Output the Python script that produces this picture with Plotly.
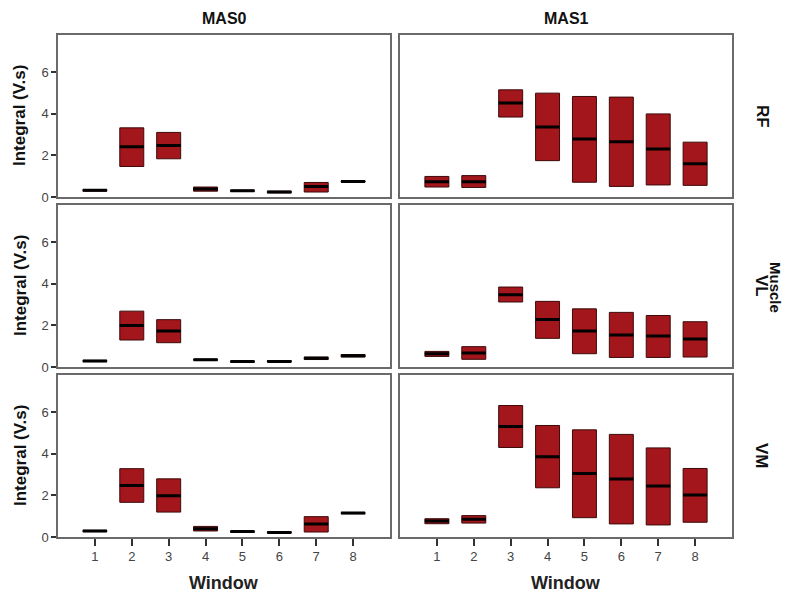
import plotly.graph_objects as go

windows = [1, 2, 3, 4, 5, 6, 7, 8]
groups = ["MAS0", "MAS1"]
muscles = ["RF", "VL", "VM"]

# RF
rf_mas0_q1 = [0.28, 1.47, 1.84, 0.28, 0.27, 0.20, 0.24, 0.72]
rf_mas0_med = [0.32, 2.42, 2.48, 0.38, 0.30, 0.24, 0.51, 0.75]
rf_mas0_q3 = [0.36, 3.33, 3.11, 0.48, 0.33, 0.28, 0.70, 0.78]
rf_mas1_q1 = [0.48, 0.46, 3.85, 1.75, 0.71, 0.51, 0.58, 0.56]
rf_mas1_med = [0.74, 0.74, 4.52, 3.37, 2.79, 2.66, 2.31, 1.60]
rf_mas1_q3 = [0.99, 1.03, 5.16, 5.00, 4.84, 4.81, 4.00, 2.64]
# VL
vl_mas0_q1 = [0.26, 1.30, 1.17, 0.32, 0.23, 0.24, 0.36, 0.48]
vl_mas0_med = [0.29, 2.00, 1.73, 0.35, 0.26, 0.27, 0.42, 0.54]
vl_mas0_q3 = [0.32, 2.69, 2.28, 0.38, 0.29, 0.31, 0.48, 0.60]
vl_mas1_q1 = [0.51, 0.37, 3.13, 1.38, 0.64, 0.46, 0.46, 0.48]
vl_mas1_med = [0.64, 0.67, 3.48, 2.29, 1.73, 1.54, 1.49, 1.35]
vl_mas1_q3 = [0.75, 0.98, 3.85, 3.16, 2.80, 2.63, 2.48, 2.18]
# VM
vm_mas0_q1 = [0.26, 1.67, 1.20, 0.29, 0.23, 0.19, 0.24, 1.12]
vm_mas0_med = [0.29, 2.48, 1.99, 0.40, 0.26, 0.22, 0.63, 1.15]
vm_mas0_q3 = [0.32, 3.29, 2.80, 0.51, 0.29, 0.25, 0.98, 1.18]
vm_mas1_q1 = [0.64, 0.67, 4.31, 2.37, 0.93, 0.63, 0.58, 0.71]
vm_mas1_med = [0.77, 0.85, 5.32, 3.86, 3.06, 2.79, 2.45, 2.02]
vm_mas1_q3 = [0.88, 1.03, 6.33, 5.37, 5.16, 4.94, 4.29, 3.30]

panels = {
    ("RF", "MAS0"): (rf_mas0_q1, rf_mas0_med, rf_mas0_q3),
    ("RF", "MAS1"): (rf_mas1_q1, rf_mas1_med, rf_mas1_q3),
    ("VL", "MAS0"): (vl_mas0_q1, vl_mas0_med, vl_mas0_q3),
    ("VL", "MAS1"): (vl_mas1_q1, vl_mas1_med, vl_mas1_q3),
    ("VM", "MAS0"): (vm_mas0_q1, vm_mas0_med, vm_mas0_q3),
    ("VM", "MAS1"): (vm_mas1_q1, vm_mas1_med, vm_mas1_q3),
}

# page body has an 8px margin: figure is sized/positioned to compensate
OFF = 8
W, H = 791 - OFF, 596 - OFF
col_px = [(58, 390), (400, 732)]
row_px = [(35, 197), (205, 367), (375, 537)]


def px(x):
    return (x - OFF) / W


def py(y):
    return 1 - (y - OFF) / H


FONT = "Liberation Sans, Arial, sans-serif"
FILL = "rgb(163,22,27)"
EDGE = "rgb(60,10,10)"
FRAME = "#6a6a6a"

fig = go.Figure()
layout = dict(
    width=W, height=H, margin=dict(l=0, r=0, t=0, b=0, autoexpand=False),
    paper_bgcolor="white", plot_bgcolor="white",
    showlegend=False, boxmode="overlay",
    font=dict(family=FONT, color="#333333", size=13),
)

annotations = []
idx = 0
for r, m in enumerate(muscles):
    for c, g in enumerate(groups):
        idx += 1
        xa = "x" if idx == 1 else f"x{idx}"
        ya = "y" if idx == 1 else f"y{idx}"
        q1, med, q3 = panels[(m, g)]
        fig.add_trace(go.Box(
            x=windows, q1=q1, median=med, q3=q3,
            lowerfence=q1, upperfence=q3,
            width=0.65, whiskerwidth=0,
            fillcolor=FILL, line=dict(color=EDGE, width=1),
            xaxis=xa, yaxis=ya, hoverinfo="skip",
        ))
        fig.add_trace(go.Box(
            x=windows, q1=med, median=med, q3=med,
            lowerfence=med, upperfence=med,
            width=0.65, whiskerwidth=0,
            fillcolor="rgba(0,0,0,0)", line=dict(color="black", width=3),
            xaxis=xa, yaxis=ya, hoverinfo="skip",
        ))
        x0, x1 = col_px[c]
        y0, y1 = row_px[r]
        bottom = r == len(muscles) - 1
        left = c == 0
        layout["xaxis" if idx == 1 else f"xaxis{idx}"] = dict(
            domain=[px(x0), px(x1)], anchor=ya, range=[0, 9],
            tickmode="array", tickvals=windows,
            ticktext=[str(w) for w in windows],
            showticklabels=bottom, ticks="outside" if bottom else "",
            ticklen=7, tickwidth=1.5, tickcolor="#333",
            showgrid=False, zeroline=False, automargin=False,
            showline=True, linecolor=FRAME, linewidth=1.5, mirror=True,
            tickfont=dict(size=13, color="#444"),
            fixedrange=True,
        )
        layout["yaxis" if idx == 1 else f"yaxis{idx}"] = dict(
            domain=[py(y1), py(y0)], anchor=xa, range=[0, 7.8],
            tickmode="array", tickvals=[0, 2, 4, 6],
            showticklabels=left, ticks="outside" if left else "",
            ticklen=5, tickwidth=1.5, tickcolor="#333",
            showgrid=False, zeroline=False, automargin=False,
            showline=True, linecolor=FRAME, linewidth=1.5, mirror=True,
            tickfont=dict(size=13, color="#444"),
            fixedrange=True,
        )


def label(text, x, y, size, angle=0, color="#111"):
    return dict(text=text, x=px(x), y=py(y), xref="paper", yref="paper",
                xanchor="center", yanchor="middle", showarrow=False,
                textangle=angle, borderpad=0,
                font=dict(size=size, color=color, family=FONT))


# column titles and x titles
for c, g in enumerate(groups):
    x0, x1 = col_px[c]
    annotations.append(label(f"<b>{g}</b>", (x0 + x1) / 2, 18, 16))
    annotations.append(label("<b>Window</b>", (x0 + x1) / 2, 583, 18, color="#222"))
# row labels and y titles
for r, m in enumerate(muscles):
    y0, y1 = row_px[r]
    annotations.append(label(f"<b>{m}</b>", 762, (y0 + y1) / 2, 17, angle=90))
    annotations.append(label("<b>Integral (V.s)</b>", 20, (y0 + y1) / 2, 17, angle=-90))
annotations.append(label("<b>Muscle</b>", 776, 287, 15, angle=90))

layout["annotations"] = annotations
fig.update_layout(**layout)
fig.write_html("out.html")
